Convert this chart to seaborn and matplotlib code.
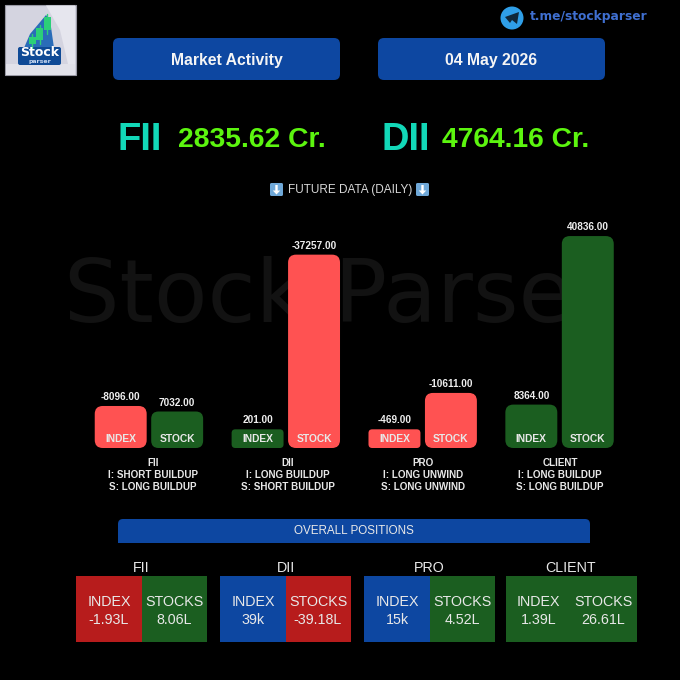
import numpy as np
import pandas as pd
import matplotlib.pyplot as plt
import seaborn as sns
from matplotlib.patches import FancyBboxPatch, Rectangle, Circle, Polygon

# Chart values

groups = ["FII", "DII", "PRO", "CLIENT"]
segments = ["INDEX", "STOCK"]
future_values = [-8096.00, 7032.00, 201.00, -37257.00, -469.00, -10611.00, 8364.00, 40836.00]
future_colors = ["#ff5252", "#1b5e20", "#1b5e20", "#ff5252", "#ff5252", "#ff5252", "#1b5e20", "#1b5e20"]
index_builds = ["I: SHORT BUILDUP", "I: LONG BUILDUP", "I: LONG UNWIND", "I: LONG BUILDUP"]
stock_builds = ["S: LONG BUILDUP", "S: SHORT BUILDUP", "S: LONG UNWIND", "S: LONG BUILDUP"]

overall_index = ["-1.93L", "39k", "15k", "1.39L"]
overall_stocks = ["8.06L", "-39.18L", "4.52L", "26.61L"]
index_colors = ["#b71c1c", "#0d47a1", "#0d47a1", "#1b5e20"]
stocks_colors = ["#1b5e20", "#b71c1c", "#1b5e20", "#1b5e20"]

fii_cash = "2835.62 Cr."
dii_cash = "4764.16 Cr."

# the original never draws a bar shorter than this
min_height = 3600

sns.set_theme(style="dark", rc={"figure.facecolor": "black", "axes.facecolor": "black"})
plt.rcParams["font.family"] = ["Liberation Sans", "DejaVu Sans"]

fig = plt.figure(figsize=(6.8, 6.8), dpi=100)

# Overlay in pixel coordinates, for the boxes and texts round the chart

page = fig.add_axes([0, 0, 1, 1], zorder=2)
page.set_xlim(0, 680)
page.set_ylim(680, 0)
page.axis("off")
page.patch.set_alpha(0)


def rounded(x0, y0, x1, y1, color, r=7, z=3):
    page.add_patch(FancyBboxPatch((x0, y0), x1 - x0, y1 - y0, boxstyle=f"round,pad=0,rounding_size={r}",
                                  fc=color, ec="none", zorder=z))


def label(x, y, s, size, color="white", weight="normal", family=None, ha="center", z=5):
    page.text(x, y, s, fontsize=size, color=color, fontweight=weight, ha=ha, va="center",
              family=family, zorder=z)


# Watermark

page.text(64, 322, "Stock Parser", fontsize=63, color="#121212", family="DejaVu Sans", ha="left",
          va="baseline", zorder=1)

# Bars

df = pd.DataFrame({
    "group": np.repeat(groups, 2),
    "segment": segments * 4,
    "height": np.maximum(np.abs(future_values), min_height),
})

ax = fig.add_axes([80.5 / 680, (680 - 448) / 680, 547.5 / 680, 228 / 680], zorder=1)
sns.barplot(data=df, x="group", y="height", hue="segment", order=groups, hue_order=segments,
            width=0.825, gap=0.08, legend=False, ax=ax)
ax.set_xlim(-0.5, 3.5)
ax.set_ylim(0, 228 / 0.00519)
ax.axis("off")
ax.patch.set_alpha(0)

bars = sorted([b for b in ax.patches if b.get_width() > 0], key=lambda b: b.get_x())
for bar, value, color, seg in zip(bars, future_values, future_colors, segments * 4):
    (x0, y0), (x1, y1) = ax.transData.transform([(bar.get_x(), 0), (bar.get_x() + bar.get_width(), bar.get_height())])
    top = 680 - y1
    bottom = 680 - y0
    bar.set_visible(False)
    rounded(x0, top, x1, bottom, color, r=min(8, (bottom - top) * 0.2))
    label((x0 + x1) / 2, top - 9, f"{value:.2f}", 7.2, color="#eeeeee", weight="bold")
    label((x0 + x1) / 2, bottom - 8.5, seg, 7.4, color="#e8e8e8", weight="bold")

# Header

page.add_patch(Rectangle((5, 5), 70.5, 70, fc="#d4d4e0", ec="#9a9aa5", lw=0.8, zorder=3))
page.add_patch(Polygon([(46, 5.5), (60, 30), (68, 64), (75, 64), (75, 5.5)], fc="#e6e6ee", ec="none", zorder=3))
page.add_patch(Rectangle((5.5, 64), 69.5, 10.5, fc="#e2e2ea", ec="none", zorder=3))
page.add_patch(Polygon([(24, 48), (30, 34), (46, 15), (50, 20), (54, 48)], fc="#2a6cb8", ec="none", zorder=3))
rounded(18, 47, 61, 65, "#0f4a96", r=2, z=3)
for cx, y0, y1 in [(32, 37, 44), (39.5, 28, 40), (47, 17, 30)]:
    page.add_patch(Rectangle((cx - 3.5, y0), 7, y1 - y0, fc="#2ccf78", ec="none", zorder=4))
    page.plot([cx, cx], [y0 - 3, y1 + 4], color="#2ccf78", lw=1, zorder=4)
label(40, 52, "Stock", 9, weight="bold", family="DejaVu Sans")
label(40, 61.5, "parser", 4.5, color="#c8d8f0", weight="bold", family="DejaVu Sans")

page.add_patch(Circle((512, 18), 11.5, fc="#2f9fe8", ec="none", zorder=3))
page.add_patch(Polygon([(505, 17), (519, 12), (517, 24), (512, 20), (510, 23)], fc="#10283a", ec="none", zorder=4))
label(530, 16.5, "t.me/stockparser", 8.85, color="#3f6fd0", weight="bold", family="DejaVu Sans", ha="left")

rounded(113, 38, 340, 80, "#0d47a1", r=6)
rounded(378, 38, 605, 80, "#0d47a1", r=6)
label(226.5, 60, "Market Activity", 11.3, weight="bold", color="#f5f5f5")
label(491, 60, "04 May 2026", 11.3, weight="bold", color="#f5f5f5")

label(118, 140, "FII", 27.5, color="#12d8b8", weight="bold", ha="left")
label(178, 140, fii_cash, 20.3, color="#5cf50f", weight="bold", ha="left")
label(382, 140, "DII", 27.5, color="#12d8b8", weight="bold", ha="left")
label(442, 140, dii_cash, 20.3, color="#5cf50f", weight="bold", ha="left")

label(350, 190.5, "FUTURE DATA (DAILY)", 8.5, color="#d8d8d8")
for ax0 in [270, 416]:
    rounded(ax0, 183, ax0 + 13, 196, "#6fa8d8", r=1.5)
    page.arrow(ax0 + 6.5, 185, 0, 5.5, width=2.4, head_width=7.5, head_length=4, length_includes_head=False,
               fc="white", ec="none", zorder=4)

# Captions under the bars

caption_x = [153, 288, 423, 560]
for cx, name, ib, sb in zip(caption_x, groups, index_builds, stock_builds):
    label(cx, 463, name, 7.1, color="#e8e8e8", weight="bold")
    label(cx, 475.5, ib, 7.1, color="#e8e8e8", weight="bold")
    label(cx, 487.5, sb, 7.1, color="#e8e8e8", weight="bold")

# Overall positions

rounded(118, 519, 590, 548, "#0d47a1", r=5)
page.add_patch(Rectangle((110, 543), 490, 8, fc="black", ec="none", zorder=4))
page.add_patch(Rectangle((118, 530), 10, 13, fc="#0d47a1", ec="none", zorder=3))
label(354, 530.5, "OVERALL POSITIONS", 8.4, color="#e8e8e8")

tile_left = [76, 220, 364, 505.5]
for left, name, iv, sv, ic, sc in zip(tile_left, groups, overall_index, overall_stocks, index_colors, stocks_colors):
    page.add_patch(Rectangle((left, 576), 65.5, 66, fc=ic, ec="none", zorder=3))
    page.add_patch(Rectangle((left + 65.5, 576), 65.5, 66, fc=sc, ec="none", zorder=3))
    label(left + 65.5, 567.5, name, 10.3, color="#e8e8e8")
    label(left + 33, 602.5, "INDEX", 10.3, color="#e8e8e8")
    label(left + 33, 619.5, iv, 10.3, color="#e8e8e8")
    label(left + 98, 602.5, "STOCKS", 10.3, color="#e8e8e8")
    label(left + 98, 619.5, sv, 10.3, color="#e8e8e8")

fig.savefig("out.png", dpi=100, facecolor="black")
